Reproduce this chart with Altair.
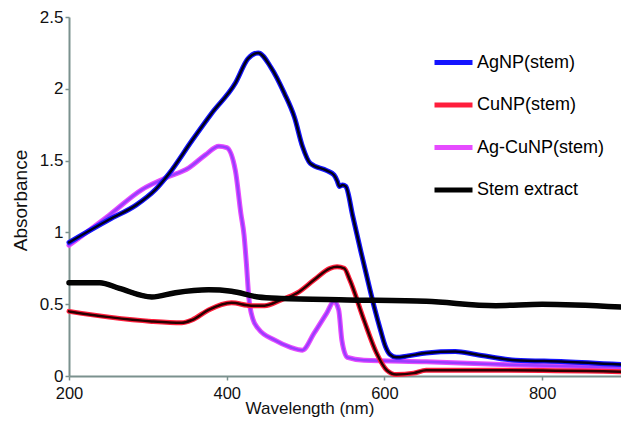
import altair as alt
import pandas as pd

series_names = ["AgNP(stem)", "CuNP(stem)", "Ag-CuNP(stem)", "Stem extract"]

agnp_wl = [200, 251, 285, 310, 327, 356, 381, 411, 427, 440, 456, 473, 486, 496, 506, 527, 536, 540, 543, 547, 551,
           560, 570, 580, 588, 595, 601, 607, 615, 630, 653, 690, 716, 766, 829, 900]
agnp_abs = [0.93, 1.09, 1.19, 1.30, 1.41, 1.64, 1.83, 2.04, 2.21, 2.25, 2.15, 1.97, 1.80, 1.60, 1.48, 1.43, 1.40, 1.36, 1.32, 1.33, 1.32,
            1.11, 0.87, 0.64, 0.46, 0.32, 0.21, 0.15, 0.13, 0.14, 0.16, 0.17, 0.15, 0.11, 0.10, 0.08]

cunp_wl = [200, 251, 305, 343, 356, 377, 406, 431, 448, 469, 490, 511, 531, 540, 549, 556, 574, 590, 603, 615, 637, 653, 750, 900]
cunp_abs = [0.45, 0.41, 0.38, 0.37, 0.39, 0.46, 0.51, 0.49, 0.49, 0.53, 0.58, 0.67, 0.75, 0.76, 0.75, 0.67, 0.39, 0.16, 0.04, 0.01, 0.02, 0.04, 0.04, 0.03]

agcunp_wl = [200, 251, 293, 323, 352, 373, 390, 400, 411, 418, 422, 425, 428, 433, 440, 461, 481, 496, 511, 527, 536, 542, 546, 553, 574, 653, 750, 900]
agcunp_abs = [0.91, 1.12, 1.30, 1.38, 1.45, 1.54, 1.60, 1.59, 1.43, 1.13, 0.98, 0.78, 0.55, 0.40, 0.33, 0.25, 0.20, 0.18, 0.30, 0.44, 0.52, 0.46, 0.25, 0.13, 0.11, 0.10, 0.08, 0.06]

stem_wl = [200, 239, 264, 305, 335, 377, 406, 440, 469, 553, 653, 741, 800, 900]
stem_abs = [0.65, 0.65, 0.61, 0.55, 0.58, 0.60, 0.59, 0.55, 0.54, 0.53, 0.52, 0.49, 0.50, 0.48]

x_ticks = [200, 400, 600, 800]
y_ticks = [0, 0.5, 1, 1.5, 2, 2.5]

outer_colors = ["#1414ff", "#ff1e3c", "#e64bff", "#000000"]
inner_colors = ["#00001a", "#2a0000", "#9a3cff", "#050505"]

frames = []
for name, wl, ab in zip(series_names,
                        [agnp_wl, cunp_wl, agcunp_wl, stem_wl],
                        [agnp_abs, cunp_abs, agcunp_abs, stem_abs]):
    frames.append(pd.DataFrame({"series": name, "wavelength": wl, "absorbance": ab}))
df = pd.concat(frames, ignore_index=True)

axis_color = "#7b918e"
x_enc = alt.X("wavelength:Q",
              scale=alt.Scale(domain=[200, 900], nice=False, zero=False),
              axis=alt.Axis(values=x_ticks, title="Wavelength (nm)", titleX=240.5, titleY=37,
                            titleFontSize=17, titleBaseline="alphabetic", titleAlign="center",
                            labelFlush=False, labelPadding=5, labelFontSize=16.5))
y_enc = alt.Y("absorbance:Q",
              scale=alt.Scale(domain=[0, 2.5], nice=False),
              axis=alt.Axis(values=y_ticks, format="~g", title="Absorbance",
                            titleX=-43, titleY=183, titleAngle=270, titleFontSize=19,
                            titleBaseline="alphabetic", titleAlign="center", labelFlush=False,
                            labelPadding=2, labelFontSize=17))

outer_legend = alt.Legend(title=None, orient="none", legendX=363, legendY=24, padding=0,
                          symbolType="M-1,0L1,0", symbolSize=1444, symbolStrokeWidth=5,
                          labelOffset=2, labelFontSize=18, labelFont="Liberation Sans",
                          labelColor="#000000", rowPadding=10.5)
inner_legend = alt.Legend(title=None, orient="none", legendX=363, legendY=24, padding=0,
                          symbolType="M-0.95,0L0.95,0", symbolSize=1640, symbolStrokeWidth=2.5,
                          labelOffset=2, labelFontSize=18, labelFont="Liberation Sans",
                          labelColor="transparent", rowPadding=10.5)

outer_color = alt.Color("series:N", scale=alt.Scale(domain=series_names, range=outer_colors),
                        legend=outer_legend)
inner_stroke = alt.Stroke("series:N", scale=alt.Scale(domain=series_names, range=inner_colors),
                          legend=inner_legend)

draw_order = ["Ag-CuNP(stem)", "CuNP(stem)", "AgNP(stem)", "Stem extract"]
layers = []
for name in draw_order:
    base = alt.Chart(df).transform_filter(alt.datum.series == name)
    outer_w = 5.5 if name == "Stem extract" else 5
    inner_w = 4 if name == "Stem extract" else 2.5
    layers.append(base.mark_line(interpolate="monotone", strokeWidth=outer_w, strokeCap="round",
                                 strokeJoin="round").encode(x=x_enc, y=y_enc, color=outer_color))
    layers.append(base.mark_line(interpolate="monotone", strokeWidth=inner_w, strokeCap="round",
                                 strokeJoin="round").encode(x=x_enc, y=y_enc, stroke=inner_stroke))

chart = alt.layer(*layers).properties(
    width=552, height=359,
    autosize=alt.AutoSizeParams(type="none"),
    padding={"left": 61, "top": 9, "right": 0, "bottom": 41},
    background="#ffffff",
).configure_view(stroke=None).configure_axis(
    grid=False,
    domainColor=axis_color, domainWidth=2,
    tickColor=axis_color, tickWidth=1.5, tickSize=4,
    labelFont="Liberation Sans", labelColor="#111111",
    titleFont="Liberation Sans", titleFontWeight="normal", titleColor="#111111",
)

chart.save("out.html", embed_options={"renderer": "svg", "actions": False})
